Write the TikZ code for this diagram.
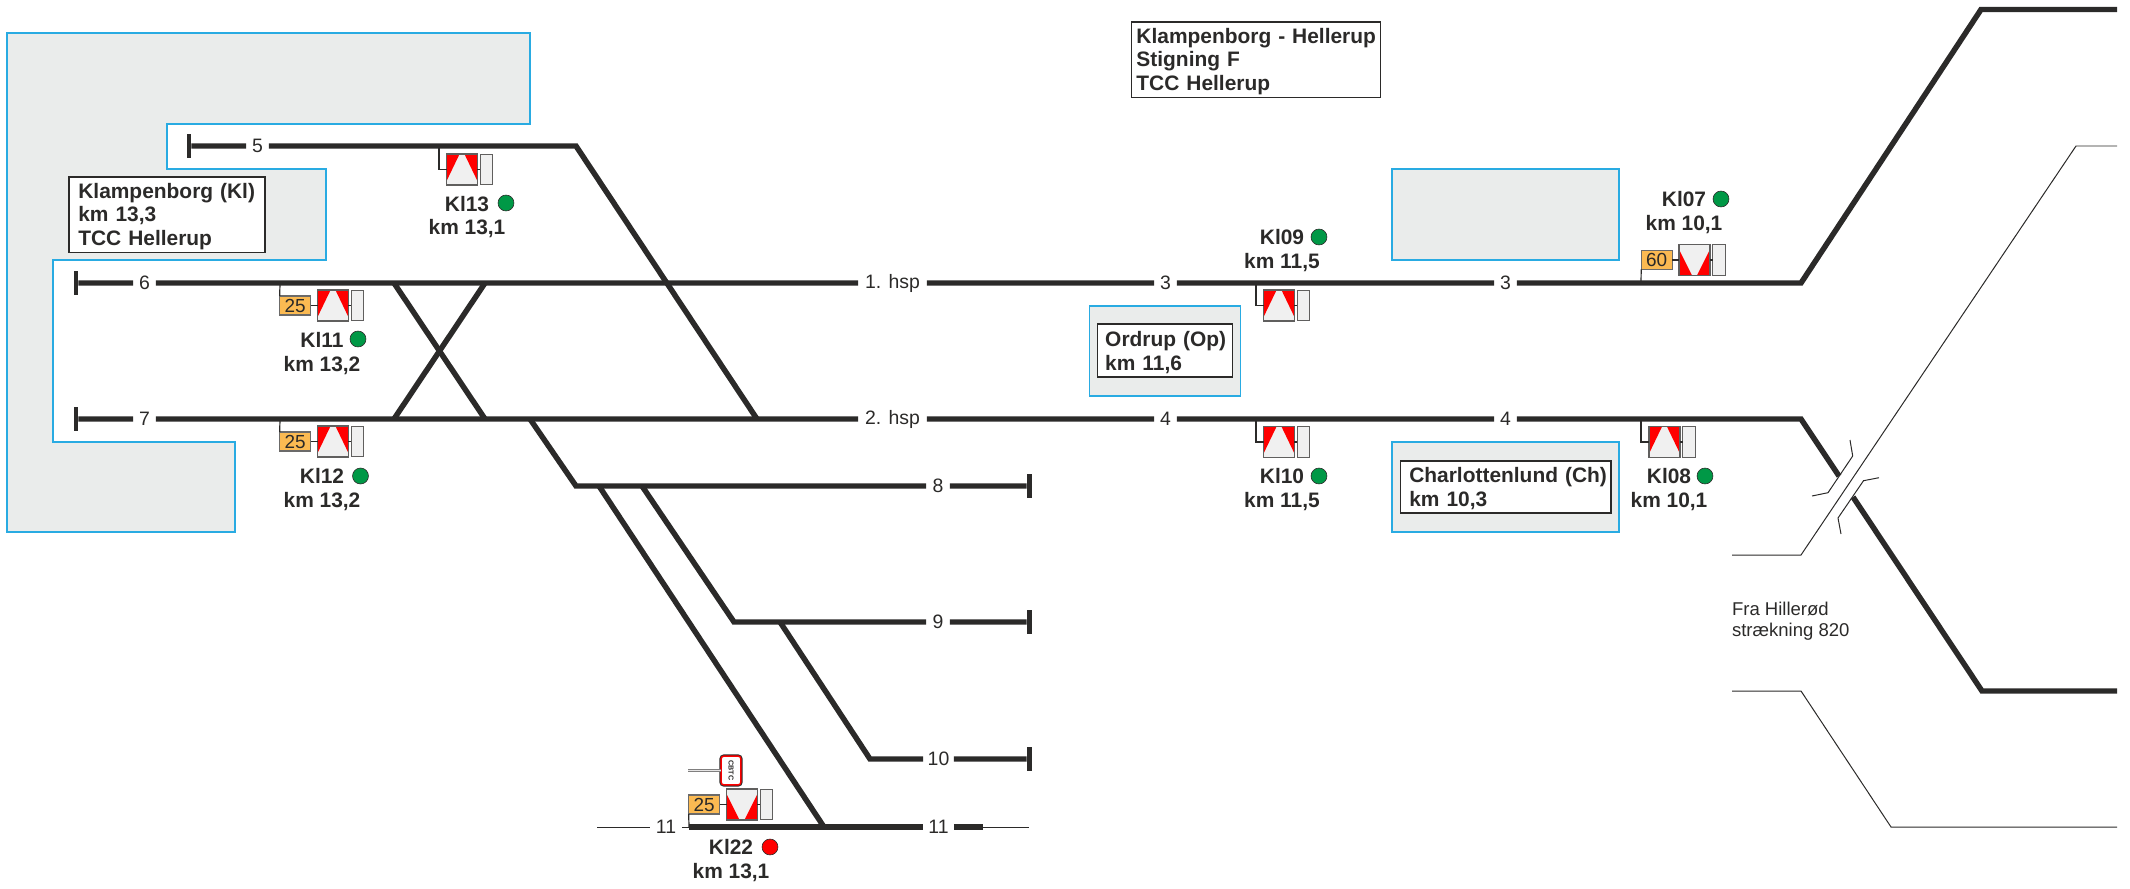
\documentclass[tikz,border=0pt]{standalone}
\usepackage{fontspec}
\setmainfont{Liberation Sans}
\usetikzlibrary{positioning}
\definecolor{trackdark}{HTML}{2B2A29}
\definecolor{areablue}{HTML}{29ABE2}
\definecolor{areagrey}{HTML}{EAECEB}
\definecolor{platefill}{HTML}{FBBA52}
\definecolor{sigface}{HTML}{F0F0F0}
\definecolor{sigred}{HTML}{FF0000}
\definecolor{siggreen}{HTML}{009846}

\begin{document}
\begin{tikzpicture}[
    x=1bp, y=-1bp,
    every node/.style={text=trackdark, inner sep=0pt, outer sep=0pt},
    area/.style={draw=areablue, line width=1.6pt, fill=areagrey},
    labelbox/.style={draw=trackdark, line width=1.4pt, fill=white, align=left, font=\fontsize{21}{24}\selectfont\bfseries, execute at begin node={\rule{0pt}{19pt}}},
    siglabel/.style={align=center, font=\fontsize{21}{24}\selectfont\bfseries},
    tracklabel/.style={minimum width=23pt, minimum height=18pt, font=\fontsize{19.5}{21}\selectfont},
    plainlabel/.style={align=left, font=\fontsize{18.6}{21}\selectfont},
    track/.style={draw=trackdark, line width=5.5pt},
    thin/.style={draw=trackdark, line width=1pt},
    post/.style={draw=trackdark, line width=1.2pt},
    stopbar/.style={fill=trackdark, minimum width=5pt, minimum height=24pt},
    plate/.style={draw=trackdark!70, line width=1.2pt, fill=platefill, minimum width=31pt, minimum height=19pt, font=\fontsize{19}{21}\selectfont},
    sideplate/.style={draw=trackdark!75, line width=1.1pt, fill=sigface, minimum width=12.5pt, minimum height=31pt},
    sigup/.style={draw=trackdark!75, line width=1.2pt, fill=sigface, minimum width=31pt, minimum height=31pt,
        path picture={
            \fill[sigred] (path picture bounding box.north west) -- ++(13,0) -- ++(-13,27) -- cycle;
            \fill[sigred] (path picture bounding box.north east) -- ++(-13,0) -- ++(13,27) -- cycle;
        }},
    sigdown/.style={draw=trackdark!75, line width=1.2pt, fill=sigface, minimum width=31pt, minimum height=31pt,
        path picture={
            \fill[sigred] (path picture bounding box.south west) -- ++(13,0) -- ++(-13,-26) -- cycle;
            \fill[sigred] (path picture bounding box.south east) -- ++(-13,0) -- ++(13,-26) -- cycle;
        }},
    dot/.style={circle, draw=trackdark, line width=0.6pt, minimum size=16pt},
    okdot/.style={dot, fill=siggreen},
    stopdot/.style={dot, fill=sigred},
    cbtcsign/.style={rectangle, rounded corners=3pt, draw=sigred, line width=1.5pt, fill=white, preaction={draw=trackdark, line width=3.4pt},
        minimum width=29pt, minimum height=20pt, rotate=-90, font=\fontsize{7.2}{8}\selectfont\bfseries},
    cbtcpost/.style={draw=trackdark!60, double=trackdark!12, line width=0.8pt, double distance=1.8pt}
]
    \useasboundingbox (0,0) rectangle (2130,889);

    \draw[area] (7,33) -- (530,33) -- (530,124) -- (167,124) -- (167,169) -- (326,169) -- (326,260) -- (53,260) -- (53,442) -- (235,442) -- (235,532) -- (7,532) -- cycle;
    \draw[area] (1392,169) rectangle (1619,260);
    \draw[area] (1089.5,306) rectangle (1240.5,396);
    \draw[area] (1392,442) rectangle (1619,532);

    \node[labelbox, minimum width=197pt, minimum height=76pt, inner xsep=9.5pt, text width=178pt] (klampenborg) at (167,214.7) {Klampenborg~(Kl)\\km~13,3\\TCC~Hellerup};
    \node[labelbox, minimum width=250pt, minimum height=76pt, inner xsep=5pt, text width=240pt] (title) at (1256,59.7) {\mbox{Klampenborg - Hellerup}\\Stigning~F\\TCC~Hellerup};
    \node[labelbox, minimum width=136pt, minimum height=53pt, inner xsep=8pt, text width=120pt] (ordrup) at (1165,350.5) {Ordrup~(Op)\\km~11,6};
    \node[labelbox, minimum width=211.5pt, minimum height=52.5pt, inner xsep=9pt, text width=193.5pt] (charlottenlund) at (1505.7,487) {Charlottenlund~(Ch)\\km~10,3};

    \node[stopbar] (end5) at (189,146) {};
    \node[stopbar] (end6) at (76,283) {};
    \node[stopbar] (end7) at (76,419) {};
    \node[stopbar] (end8) at (1029,486) {};
    \node[stopbar] (end9) at (1029,622) {};
    \node[stopbar] (end10) at (1029,759) {};

    \node[tracklabel] (n5) at (257.5,146) {5};
    \node[tracklabel] (n6) at (144.5,283) {6};
    \node[tracklabel] (n7) at (144.5,419) {7};
    \node[tracklabel, minimum width=24pt] (n8) at (938,486) {8};
    \node[tracklabel, minimum width=24pt] (n9) at (938,622) {9};
    \node[tracklabel, minimum width=31pt] (n10) at (938.5,759) {10};
    \node[tracklabel, minimum width=32pt] (n11a) at (666,827) {11};
    \node[tracklabel, minimum width=31pt] (n11b) at (938.5,827) {11};
    \node[tracklabel, minimum width=69pt] (hsp1) at (892.5,283) {1. hsp};
    \node[tracklabel, minimum width=69pt] (hsp2) at (892.5,419) {2. hsp};
    \node[tracklabel] (n3a) at (1165.5,283) {3};
    \node[tracklabel] (n3b) at (1505.5,283) {3};
    \node[tracklabel] (n4a) at (1165.5,419) {4};
    \node[tracklabel] (n4b) at (1505.5,419) {4};

    \coordinate (j5a) at (576,146);
    \coordinate (j5b) at (757,419);
    \coordinate (x6a) at (394,283);
    \coordinate (x6b) at (485,283);
    \coordinate (x7a) at (394,419);
    \coordinate (x7b) at (485,419);
    \coordinate (j7) at (530,419);
    \coordinate (j8) at (576,486);
    \coordinate (j8a) at (599,486);
    \coordinate (j8b) at (642,486);
    \coordinate (j9) at (734,622);
    \coordinate (j9a) at (780,622);
    \coordinate (j10) at (870,759);
    \coordinate (j11) at (824,827);
    \coordinate (t11a) at (689,827);
    \coordinate (t11b) at (983,827);
    \coordinate (thin11a) at (597,827);
    \coordinate (thin11b) at (1029,827);
    \coordinate (bend3) at (1801,283);
    \coordinate (top3) at (1981,9.5);
    \coordinate (out3) at (2117,9.5);
    \coordinate (bend4) at (1801,419);
    \coordinate (under4a) at (1839,476);
    \coordinate (under4b) at (1853,497);
    \coordinate (low4) at (1982,691);
    \coordinate (out4) at (2117,691);

    \draw[track] (end5) -- (n5) -- (j5a) -- (j5b);
    \draw[track] (end6) -- (n6) -- (hsp1) -- (n3a) -- (n3b) -- (bend3) -- (top3) -- (out3);
    \draw[track] (end7) -- (n7) -- (hsp2) -- (n4a) -- (n4b) -- (bend4) -- (under4a);
    \draw[track] (under4b) -- (low4) -- (out4);
    \draw[track] (x6a) -- (x7b);
    \draw[track] (x6b) -- (x7a);
    \draw[track] (j7) -- (j8) -- (n8) -- (end8);
    \draw[track] (j8b) -- (j9) -- (n9) -- (end9);
    \draw[track] (j9a) -- (j10) -- (n10) -- (end10);
    \draw[track] (j8a) -- (j11);
    \draw[track] (t11a) -- (n11b) -- (t11b);
    \draw[thin] (thin11a) -- (n11a) -- (t11a);
    \draw[thin] (t11b) -- (thin11b);

    \coordinate (hill1) at (1732,555);
    \coordinate (hill2) at (1801,555);
    \coordinate (hill3) at (2076,146);
    \coordinate (hill4) at (2117,146);
    \coordinate (hill5) at (1732,691);
    \coordinate (hill6) at (1801,691);
    \coordinate (hill7) at (1891,827);
    \coordinate (hill8) at (2117,827);
    \draw[thin] (hill1) -- (hill2) -- (hill3) -- (hill4);
    \draw[thin] (hill5) -- (hill6) -- (hill7) -- (hill8);

    \coordinate (bridge1) at (1850,440);
    \coordinate (bridge2) at (1852.7,456);
    \coordinate (bridge3) at (1828,492.7);
    \coordinate (bridge4) at (1812,496);
    \coordinate (bridge5) at (1879,477.7);
    \coordinate (bridge6) at (1863.5,480.7);
    \coordinate (bridge7) at (1838,518);
    \coordinate (bridge8) at (1841,534);
    \draw[thin] (bridge1) -- (bridge2) -- (bridge3) -- (bridge4);
    \draw[thin] (bridge5) -- (bridge6) -- (bridge7) -- (bridge8);

    \node[plainlabel, anchor=north west] (hillerod) at (1732,602) {Fra Hillerød\\strækning 820};

    \coordinate (p13) at (439,146);
    \node[sigup] (kl13) at (462,169.5) {};
    \node[sideplate, right=3pt of kl13] (side13) {};
    \node[siglabel] (label13) at (467,217) {Kl13\\km 13,1};
    \node[okdot] (dot13) at (506,203) {};
    \draw[post] (p13) |- (kl13);
    \draw[post] (kl13) -- (side13);

    \coordinate (p11) at (280,283);
    \node[sigup] (kl11) at (333,305.5) {};
    \node[sideplate, right=3pt of kl11] (side11) {};
    \node[plate, left=7pt of kl11] (plate11) {25};
    \node[siglabel] (label11) at (322,353.5) {Kl11\\km 13,2};
    \node[okdot] (dot11) at (358,339) {};
    \draw[post] (p11) -- (plate11.north west);
    \draw[post] (plate11) -- (kl11);
    \draw[post] (kl11) -- (side11);

    \coordinate (p12) at (280,419);
    \node[sigup] (kl12) at (333,441.5) {};
    \node[sideplate, right=3pt of kl12] (side12) {};
    \node[plate, left=7pt of kl12] (plate12) {25};
    \node[siglabel] (label12) at (322,489.5) {Kl12\\km 13,2};
    \node[okdot] (dot12) at (360.5,476) {};
    \draw[post] (p12) -- (plate12.north west);
    \draw[post] (plate12) -- (kl12);
    \draw[post] (kl12) -- (side12);

    \coordinate (p09) at (1256,283);
    \node[sigup] (kl09) at (1279,305.5) {};
    \node[sideplate, right=3pt of kl09] (side09) {};
    \node[siglabel] (label09) at (1282,250.5) {Kl09\\km 11,5};
    \node[okdot] (dot09) at (1319,237) {};
    \draw[post] (p09) |- (kl09);
    \draw[post] (kl09) -- (side09);

    \coordinate (p10) at (1256,419);
    \node[sigup] (kl10) at (1279,442) {};
    \node[sideplate, right=3pt of kl10] (side10) {};
    \node[siglabel] (label10) at (1282,489.5) {Kl10\\km 11,5};
    \node[okdot] (dot10) at (1319,476) {};
    \draw[post] (p10) |- (kl10);
    \draw[post] (kl10) -- (side10);

    \coordinate (p07) at (1641,283);
    \node[sigdown] (kl07) at (1694.5,260) {};
    \node[sideplate, right=3pt of kl07] (side07) {};
    \node[plate, left=7pt of kl07] (plate07) {60};
    \node[siglabel] (label07) at (1684,212.5) {Kl07\\km 10,1};
    \node[okdot] (dot07) at (1721,199) {};
    \draw[post] (p07) -- (plate07.south west);
    \draw[post] (plate07) -- (kl07);
    \draw[post] (kl07) -- (side07);

    \coordinate (p08) at (1641,419);
    \node[sigup] (kl08) at (1664.5,442) {};
    \node[sideplate, right=3pt of kl08] (side08) {};
    \node[siglabel] (label08) at (1669,489.5) {Kl08\\km 10,1};
    \node[okdot] (dot08) at (1705,476) {};
    \draw[post] (p08) |- (kl08);
    \draw[post] (kl08) -- (side08);

    \coordinate (p22) at (689,827);
    \node[sigdown] (kl22) at (742,804.5) {};
    \node[sideplate, right=3pt of kl22] (side22) {};
    \node[plate, left=7pt of kl22] (plate22) {25};
    \node[siglabel] (label22) at (731,860.5) {Kl22\\km 13,1};
    \node[stopdot] (dot22) at (770,847) {};
    \node[cbtcsign] (cbtc) at (731,770.5) {CBTC};
    \coordinate (cbtcend) at (688,770.5);
    \draw[post] (p22) -- (plate22.south west);
    \draw[post] (plate22) -- (kl22);
    \draw[post] (kl22) -- (side22);
    \draw[cbtcpost] (cbtcend) -- (cbtc);
\end{tikzpicture}
\end{document}
